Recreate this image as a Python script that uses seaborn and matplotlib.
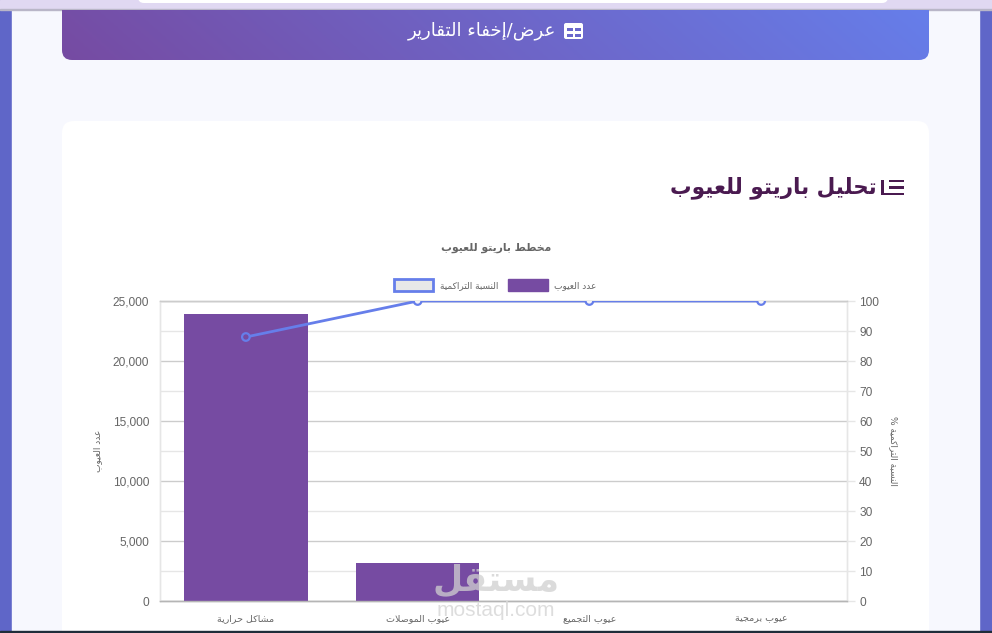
import numpy as np
import matplotlib
matplotlib.use("Agg")
import matplotlib.pyplot as plt
import seaborn as sns
from matplotlib.patches import FancyBboxPatch, Patch, Rectangle
from matplotlib.ticker import FuncFormatter, MultipleLocator

# --- DATA ---
CATEGORIES = ["مشاكل حرارية", "عيوب الموصلات", "عيوب التجميع", "عيوب برمجية"]
DEFECT_COUNTS = [23900, 3150, 0, 0]
CUMULATIVE_PCT = [88, 100, 100, 100]

BAR_LABEL = "عدد العيوب"
LINE_LABEL = "النسبة التراكمية"
LEFT_AXIS_LABEL = "عدد العيوب"
RIGHT_AXIS_LABEL = "النسبة التراكمية %"
CHART_TITLE = "مخطط باريتو للعيوب"
HEADING = "تحليل باريتو للعيوب"
BANNER = "عرض/إخفاء التقارير"
WATERMARK_AR = "مستقل"
WATERMARK_EN = "mostaql.com"

# --- COLORS ---
PURPLE = "#764ba2"
BLUE = "#667eea"
GRID = "#e6e6e6"
GRID_DARK = "#cccccc"
TEXT = "#666666"

W, H = 992, 633

# isolated form of each letter; dual joiners run iso/final/init/medi, the rest iso/final
DUAL = {"ب": 0xFE8F, "ت": 0xFE95, "ج": 0xFE9D, "ح": 0xFEA1, "خ": 0xFEA5, "س": 0xFEB1,
        "ش": 0xFEB5, "ص": 0xFEB9, "ض": 0xFEBD, "ط": 0xFEC1, "ع": 0xFEC9, "ف": 0xFED1,
        "ق": 0xFED5, "ك": 0xFED9, "ل": 0xFEDD, "م": 0xFEE1, "ن": 0xFEE5, "ه": 0xFEE9,
        "ي": 0xFEF1}
RIGHT = {"أ": 0xFE83, "إ": 0xFE87, "ا": 0xFE8D, "ة": 0xFE93, "د": 0xFEA9, "ر": 0xFEAD,
         "و": 0xFEED}
NONE = {"ء": 0xFE80}


def ar(text):
    """matplotlib does no shaping, so pick presentation forms and reverse to visual order."""
    text = text.replace("لا", "\uFFF0")  # lam-alef placeholder
    out = []
    for i, c in enumerate(text):
        prev = text[i - 1] if i > 0 else ""
        nxt = text[i + 1] if i + 1 < len(text) else ""
        joins_prev = prev in DUAL
        joins_next = nxt in DUAL or nxt in RIGHT or nxt == "\uFFF0"
        if c == "\uFFF0":
            out.append("\uFEFC" if joins_prev else "\uFEFB")
        elif c in DUAL:
            offset = {(0, 0): 0, (1, 0): 1, (0, 1): 2, (1, 1): 3}[(int(joins_prev), int(joins_next))]
            out.append(chr(DUAL[c] + offset))
        elif c in RIGHT:
            out.append(chr(RIGHT[c] + int(joins_prev)))
        elif c in NONE:
            out.append(chr(NONE[c]))
        else:
            out.append(c)
    return "".join(out)[::-1]


def px(x, y):
    return x / W, 1 - y / H


sns.set_theme(style="white")
plt.rcParams["font.family"] = ["DejaVu Sans"]

fig = plt.figure(figsize=(W / 100, H / 100), dpi=100)

# --- page behind the chart, in pixel coordinates ---
bg = fig.add_axes([0, 0, 1, 1], zorder=0)
bg.set_xlim(0, W)
bg.set_ylim(H, 0)
bg.axis("off")
bg.add_patch(Rectangle((0, 0), W, H, color="#5f66c8"))
bg.add_patch(Rectangle((12, 0), 967, H, color="#f7f8fe"))
bg.add_patch(Rectangle((0, 0), W, 9, color="#e0d8f2"))
bg.add_patch(Rectangle((0, 9), W, 1, color="#b9b6c8"))
bg.add_patch(FancyBboxPatch((138, -10), 750, 13, boxstyle="round,pad=0,rounding_size=6",
                            fc="white", ec="none"))
bg.add_patch(Rectangle((0, 631), W, 2, color="#1f2d3a", zorder=5))

# banner gradient, clipped to a rounded box
clip = FancyBboxPatch((62, -20), 867, 80, boxstyle="round,pad=0,rounding_size=10",
                      fc="none", ec="none")
bg.add_patch(clip)
gx, gy = np.meshgrid(np.linspace(0, 1, 200), np.linspace(0, 1, 40))
t = np.clip(gx * 0.94 + (1 - gy) * 0.06, 0, 1)[..., None]
c0 = np.array(matplotlib.colors.to_rgb(PURPLE))
c1 = np.array(matplotlib.colors.to_rgb(BLUE))
im = bg.imshow(c0 + (c1 - c0) * t, extent=(62, 929, 60, 10), aspect="auto", zorder=2)
im.set_clip_path(clip)
bg.set_xlim(0, W)
bg.set_ylim(H, 0)

# white card
bg.add_patch(FancyBboxPatch((62, 121), 867, 560, boxstyle="round,pad=0,rounding_size=12",
                            fc="white", ec="none", zorder=1))

# banner table icon
bg.add_patch(FancyBboxPatch((564, 23), 19, 16, boxstyle="round,pad=0,rounding_size=2",
                            fc="white", ec="none", zorder=3))
for ix in (566.5, 575):
    for iy in (27.5, 33.5):
        bg.add_patch(Rectangle((ix, iy), 6, 3.8, fc="#6a68cc", ec="none", zorder=4))

# heading icon
for iy, x0 in ((181, 889), (187.5, 889), (194, 882)):
    bg.add_patch(Rectangle((x0, iy - 1.3), 904 - x0, 2.6, fc="#4a1a50", ec="none", zorder=3))
bg.add_patch(Rectangle((881, 179.7), 2.6, 15.6, fc="#4a1a50", ec="none", zorder=3))

# --- chart ---
left, right, top, bottom = 160, 847, 301, 601
ax = fig.add_axes([left / W, 1 - bottom / H, (right - left) / W, (bottom - top) / H], zorder=2)
ax.patch.set_alpha(0)

labels = [ar(c) for c in CATEGORIES]
sns.barplot(x=labels, y=DEFECT_COUNTS, color=PURPLE, saturation=1, width=0.72, linewidth=0,
            ax=ax, zorder=3)
ax.set_ylim(0, 25000)
ax.yaxis.set_major_locator(MultipleLocator(5000))
ax.yaxis.set_minor_locator(MultipleLocator(2500))
ax.yaxis.set_major_formatter(FuncFormatter(lambda v, _: f"{int(v):,}"))
# grid only on the left axis so it stays behind the bars
ax.grid(True, axis="y", which="major", color=GRID_DARK, lw=1)
ax.grid(True, axis="y", which="minor", color=GRID, lw=1)
ax.set_axisbelow(True)
ax.tick_params(axis="y", which="both", length=0, pad=7.8, labelsize=8.6, labelcolor=TEXT)
ax.tick_params(axis="x", length=0, pad=9.5, labelsize=6.8, labelcolor=TEXT)
for lab in ax.get_yticklabels():
    lab.set_fontfamily("Liberation Sans")
ax.set_xlabel("")
ax.set_ylabel("")

ax2 = ax.twinx()
ax2.patch.set_alpha(0)
sns.lineplot(x=labels, y=CUMULATIVE_PCT, sort=False, color=BLUE, lw=2, errorbar=None, ax=ax2, zorder=4)
# ring markers: the first sits on the bar, the others on white
sns.scatterplot(x=labels, y=CUMULATIVE_PCT, hue=labels, legend=False, s=30,
                palette=[PURPLE, "#f4f4f8", "#f4f4f8", "#f4f4f8"], edgecolor=BLUE, linewidth=1.6,
                ax=ax2, zorder=5)
ax2.set_ylim(0, 100)
ax2.yaxis.set_major_locator(MultipleLocator(10))
ax2.grid(False)
ax2.tick_params(axis="y", right=True, length=5.8, width=1, color=GRID, pad=3, labelsize=8.6,
                labelcolor=TEXT)
for lab in ax2.get_yticklabels():
    lab.set_fontfamily("Liberation Sans")
ax2.set_xlabel("")
ax2.set_ylabel("")
ax.set_xlim(-0.5, 3.5)

for a in (ax, ax2):
    for name, spine in a.spines.items():
        spine.set_color({"bottom": "#b5b5b5", "top": GRID_DARK}.get(name, GRID))
        spine.set_linewidth(1)

# --- texts ---
fig.text(*px(98, 451), ar(LEFT_AXIS_LABEL), rotation=90, ha="center", va="center", fontsize=6.5, color=TEXT)
fig.text(*px(893, 451), ar(RIGHT_AXIS_LABEL), rotation=-90, ha="center", va="center", fontsize=6.5, color=TEXT)
fig.text(*px(496, 248), ar(CHART_TITLE), ha="center", va="center", fontsize=7.8, fontweight="bold", color=TEXT)
fig.text(*px(877, 188), ar(HEADING), ha="right", va="center", fontsize=15.5, fontweight="bold", color="#4a1a50")
fig.text(*px(482, 31), ar(BANNER), ha="center", va="center", fontsize=13, color="white")

handles = [Patch(facecolor="#e8e8e8", edgecolor=BLUE, linewidth=2, label=ar(LINE_LABEL)),
           Patch(facecolor=PURPLE, edgecolor=PURPLE, label=ar(BAR_LABEL))]
fig.legend(handles=handles, loc="center", bbox_to_anchor=px(495, 285), ncol=2, frameon=False,
           fontsize=6.5, labelcolor=TEXT, handlelength=4.4, handleheight=1.6, handletextpad=0.7,
           columnspacing=1.1)

# --- watermark ---
fig.text(*px(496, 581), ar(WATERMARK_AR), ha="center", va="center", fontsize=25, fontweight="bold",
         color="#d0d0d0", alpha=0.75, zorder=10)
fig.text(*px(496, 611), WATERMARK_EN, ha="center", va="center", fontsize=15, color="#d8d8d8",
         alpha=0.85, family="Liberation Sans", zorder=10)

fig.savefig("out.png", dpi=100)
